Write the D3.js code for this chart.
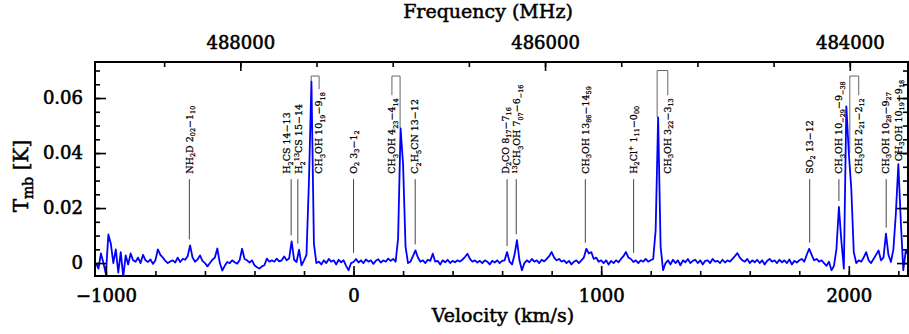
<!DOCTYPE html>
<html>
<head>
<meta charset="utf-8">
<script src="https://cdn.jsdelivr.net/npm/d3@7"></script>
<style>
  body { margin: 0; background: #fff; }
  svg text { font-family: "DejaVu Serif", serif; fill: #000; }
</style>
</head>
<body>
<svg id="chart" width="909" height="334"></svg>
<script>
// spectrum channels: first channel velocity and channel width (km/s)
var velStart = -1040;
var velStep = 10;
// main beam temperature per channel, in mK
var tmbMilliK = [
  0, -2, 3.5, 0, -4, 10.4, 7, 0, 5, -3.5,
  4, -5, 2.8, -0.5, 3.5, 1, 0.5, 2, 0, 3,
  1, 0.4, 1.3, -0.3, 1, 5, 3, 2, 0.8, 0,
  0.6, 1, 0.2, 2, 0.4, 1.5, 1.2, 2.5, 6.4, 2,
  0.5, 1.3, 2.8, 0.8, 0, -1.2, 0, 1.2, 2, 5.3,
  0, -2.7, -1, 0.4, 0, 1, 0.3, -0.2, 1, 5.2,
  1.5, 1, 0.2, 1, -0.8, -1.5, -2, -1.2, -0.8, 1.6,
  0.5, 1, 0.5, 1.6, 0.6, 1, 2.4, 1, 1.7, 7.9,
  1.2, 0.4, 4.9, -0.8, 1, 3, 30, 66, 7, 0,
  0.5, -0.5, 1, 0, 1.5, 0.5, 1, -0.5, 1.2, 0.3,
  1, -1, -2.6, 0, 0.4, 1.5, 0.2, 1, 0, 1.3,
  0.5, 1, -0.3, 0.8, 1.4, 0.2, 1, 0.5, 1.6, 0.8,
  1.5, 0.5, 9, 49, 36, 6, 0, 0.5, 2.5, 4.6,
  2, 0.5, 1, 0, 1.2, 0.8, 3.4, 0.5, 0.8, -0.5,
  1, 0.3, 1.2, 0, 0.8, 0.3, 1, 0.5, 1.3, 2.2,
  3.4, 1.5, 0.5, 1, 0.2, 0.8, 0, 1, 0.5, -0.5,
  0.8, 0.2, 1, 0, 0.8, 1, 4, 0.5, -0.5, 3,
  8.3, 1, -2.6, 0, 1, 0.3, 1.5, 0.5, 1, 0,
  1.2, 0.6, 1.5, 2.5, 4, 2, 1, 1.5, 0.5, 1,
  0, 0.8, -0.5, 0.5, 1, 0, 1, 2, 5.2, 3.5,
  4, 1.5, 2, 0.5, 1, 0, 1, -0.5, 0.8, 0,
  1, 0.3, 1.5, 2.5, 4, 2, 1.5, 0.4, 1, 0,
  1, 0.5, 1.5, 0.5, 1, 1.5, 12, 53, 6, -2.6,
  0, 1, -0.5, 1.2, 0, 1, -0.8, 1, 0.3, 1.5,
  0, 0.8, 1.2, 0, 1, -0.5, 0.8, 1, 0, 1.5,
  0.5, 0.8, 0, 1.2, 0.2, 1, 0.5, 1.5, 2.5, 3.6,
  2, 1, 0.5, 1.5, 0, 1, 0.3, 1.2, 0, 1,
  -0.5, 0.8, 1.5, 0.5, 1, 0, 1.2, 0.3, 1, 0,
  1.3, -0.5, 0.8, 0.2, 1, 1.5, 0.5, 3, 5.2, 3,
  1, 1.5, 0.5, 1, 0, -1, 0.5, -2.6, -1, 5,
  20.4, 8, -2, 57, 40, 27, 4, 0, 1, 0.5,
  2, 4, 1, 0, 1.5, 3, 4.6, 1, 2, 10.7,
  3, 0.4, 5, 18, 36, 15, -2.6, 4.6, 3
];

var velTicks = [-1000, 0, 1000, 2000];
var freqTicks = [488000, 486000, 484000];
var tmbTicks = [0, 0.02, 0.04, 0.06];

// line identifications: velocity of the line, label (_ sub, ^ sup)
// labelV moves a label sideways; bracketed ones also carry the bracket level (K)
var lineIds = [
  {v: -663, name: "NH_2D 2_{02}\u22121_{10}"},
  {v: -252, name: "H_2CS 14\u221213", labelV: -268},
  {v: -225, name: "H_2^{13}CS 15\u221214", labelV: -221},
  {v: -171, name: "CH_3OH 10_{19}\u22129_{18}", labelV: -139, top: 0.068},
  {v: 0, name: "O_2 3_3\u22121_2"},
  {v: 188, name: "CH_3OH 4_{23}\u22124_{14}", labelV: 155, top: 0.068},
  {v: 249, name: "C_2H_5CN 13\u221212"},
  {v: 620, name: "D_2CO 8_{17}\u22127_{16}", labelV: 614},
  {v: 657, name: "^{13}CH_3OH 7_{07}\u22126_{\u221216}", labelV: 660},
  {v: 936, name: "CH_3OH 13_{86}\u221214_{59}"},
  {v: 1131, name: "H_2Cl^+ 1_{11}\u22120_{00}"},
  {v: 1226, name: "CH_3OH 3_{22}\u22123_{13}", labelV: 1269, top: 0.070},
  {v: 1842, name: "SO_2 13\u221212"},
  {v: 1960, name: "CH_3OH 10_{\u221229}\u22129_{\u221238}"},
  {v: 2004, name: "CH_3OH 2_{21}\u22122_{12}", labelV: 2040, top: 0.068},
  {v: 2151, name: "CH_3OH 10_{28}\u22129_{27}", labelV: 2148},
  {v: 2200, name: "CH_3OH 10_{19}\u22129_{18}", labelAt: 0.037}
];

var restFreq = 487257;      // MHz at v = 0
var cLight = 299792.458;

var W = 909, H = 334;
var margin = {top: 62, right: 1, bottom: 58, left: 95};
var width = W - margin.left - margin.right;
var height = H - margin.top - margin.bottom;

var svg = d3.select("#chart");
var g = svg.append("g").attr("transform", "translate(" + margin.left + "," + margin.top + ")");

var vMin = -1044, vMax = 2239;
var x = d3.scaleLinear().domain([vMin, vMax]).range([0, width]);
var y = d3.scaleLinear().domain([-0.0047, 0.0731]).range([height, 0]);
var xf = d3.scaleLinear()
  .domain([restFreq * (1 - vMin / cLight), restFreq * (1 - vMax / cLight)])
  .range([0, width]);

var spec = tmbMilliK.map(function(t, i) { return {v: velStart + i * velStep, t: t / 1000}; });

svg.append("defs").append("clipPath").attr("id", "clip")
  .append("rect").attr("width", width).attr("height", height);

function specAt(v) {
  var i = Math.round((v - velStart) / velStep);
  return spec[Math.max(0, Math.min(spec.length - 1, i))].t;
}
function specMax(v, dv) {
  return d3.max(spec.filter(function(d) { return Math.abs(d.v - v) <= dv; }), function(d) { return d.t; });
}

// write a label with sub/superscripts into a text element
function richText(sel, str, subSize, subShift, supShift) {
  var re = /([_^])(\{[^}]*\}|.)|([^_^]+)/g, m, shift = 0;
  while ((m = re.exec(str))) {
    if (m[3]) {
      sel.append("tspan").attr("dy", -shift).text(m[3]);
      shift = 0;
    } else {
      var s = m[1] === "_" ? subShift : -supShift;
      sel.append("tspan").attr("dy", s - shift).attr("font-size", subSize)
        .text(m[2].replace(/[{}]/g, ""));
      shift = s;
    }
  }
}

// line markers
var markG = g.append("g").attr("class", "markers");
lineIds.forEach(function(d) {
  var lx = x(d.labelV != null ? d.labelV : d.v);
  var base = y(d.labelAt != null ? d.labelAt : 0.0325);
  var txt = markG.append("text")
    .attr("transform", "translate(" + (lx + 3.3) + "," + base + ") rotate(-90)")
    .attr("font-size", "9.5px")
    .attr("stroke", "#000").attr("stroke-width", 0.25);
  richText(txt, d.name, "6.5px", 2.4, 3.5);
  var len = txt.node().getComputedTextLength();
  if (d.top != null) {
    var lineX = x(d.v), topY = y(d.top);
    markG.append("path")
      .attr("d", "M" + lineX + "," + y(specAt(d.v)) + "V" + topY + "H" + lx + "V" + (base - len - 3))
      .attr("fill", "none").attr("stroke", "#666").attr("stroke-width", 1);
  } else {
    var y1 = y(0.0305), y2 = y(specMax(d.v, 15) + 0.0022);
    if (y2 > y1) {
      markG.append("line")
        .attr("x1", x(d.v)).attr("x2", x(d.v)).attr("y1", y1).attr("y2", y2)
        .attr("stroke", "#444").attr("stroke-width", 1);
    }
  }
});

// spectrum
g.append("path")
  .datum(spec)
  .attr("clip-path", "url(#clip)")
  .attr("fill", "none")
  .attr("stroke", "#0000ff")
  .attr("stroke-width", 1.8)
  .attr("stroke-linejoin", "round")
  .attr("d", d3.line().x(function(d) { return x(d.v); }).y(function(d) { return y(d.t); }));

// axes
function styleAxis(sel) {
  sel.select(".domain").remove();
  sel.selectAll(".tick line").attr("stroke", "#000").attr("stroke-width", 1.6);
  sel.selectAll("text").attr("font-size", "18px").attr("font-family", "DejaVu Serif, serif")
    .attr("stroke", "#000").attr("stroke-width", 0.6);
}

var minorV = d3.range(-1000, 2201, 200);
var minorF = d3.range(488500, 483999, -500);
var minorT = d3.range(0, 0.0701, 0.005);

g.append("g").attr("transform", "translate(0," + height + ")")
  .call(d3.axisBottom(x).tickValues(minorV).tickSize(-5).tickFormat("")).call(styleAxis);
var bx = g.append("g").attr("transform", "translate(0," + height + ")")
  .call(d3.axisBottom(x).tickValues(velTicks).tickSize(-10).tickFormat(function(d) { return d < 0 ? "\u2212" + Math.abs(d) : d; }))
  .call(styleAxis);
bx.selectAll("text").attr("y", 13);

g.append("g").call(d3.axisTop(xf).tickValues(minorF).tickSize(-5).tickFormat("")).call(styleAxis);
var tx = g.append("g").call(d3.axisTop(xf).tickValues(freqTicks).tickSize(-9).tickFormat(d3.format("d")))
  .call(styleAxis);
tx.selectAll("text").attr("y", -13.5);

g.append("g").call(d3.axisLeft(y).tickValues(minorT).tickSize(-5).tickFormat("")).call(styleAxis);
var ly = g.append("g").call(d3.axisLeft(y).tickValues(tmbTicks).tickSize(-11).tickFormat(function(d) { return d === 0 ? "0" : d3.format(".2f")(d); }))
  .call(styleAxis);
ly.selectAll("text").attr("x", -12);

g.append("g").attr("transform", "translate(" + width + ",0)")
  .call(d3.axisRight(y).tickValues(minorT).tickSize(-5).tickFormat("")).call(styleAxis);
g.append("g").attr("transform", "translate(" + width + ",0)")
  .call(d3.axisRight(y).tickValues(tmbTicks).tickSize(-11).tickFormat("")).call(styleAxis);

g.append("rect").attr("width", width).attr("height", height)
  .attr("fill", "none").attr("stroke", "#000").attr("stroke-width", 2);

// titles
svg.append("text").attr("x", 488).attr("y", 18).attr("text-anchor", "middle")
  .attr("font-size", "19px").attr("stroke", "#000").attr("stroke-width", 0.5)
  .text("Frequency (MHz)");
svg.append("text").attr("x", 503).attr("y", 322).attr("text-anchor", "middle")
  .attr("font-size", "19px").attr("stroke", "#000").attr("stroke-width", 0.5)
  .text("Velocity (km/s)");
var yt = svg.append("text").attr("transform", "translate(28,176) rotate(-90)")
  .attr("text-anchor", "middle").attr("font-size", "20px")
  .attr("stroke", "#000").attr("stroke-width", 0.5);
yt.append("tspan").text("T");
yt.append("tspan").attr("dy", 5).attr("font-size", "14px").text("mb");
yt.append("tspan").attr("dy", -5).text(" [K]");
</script>
</body>
</html>
